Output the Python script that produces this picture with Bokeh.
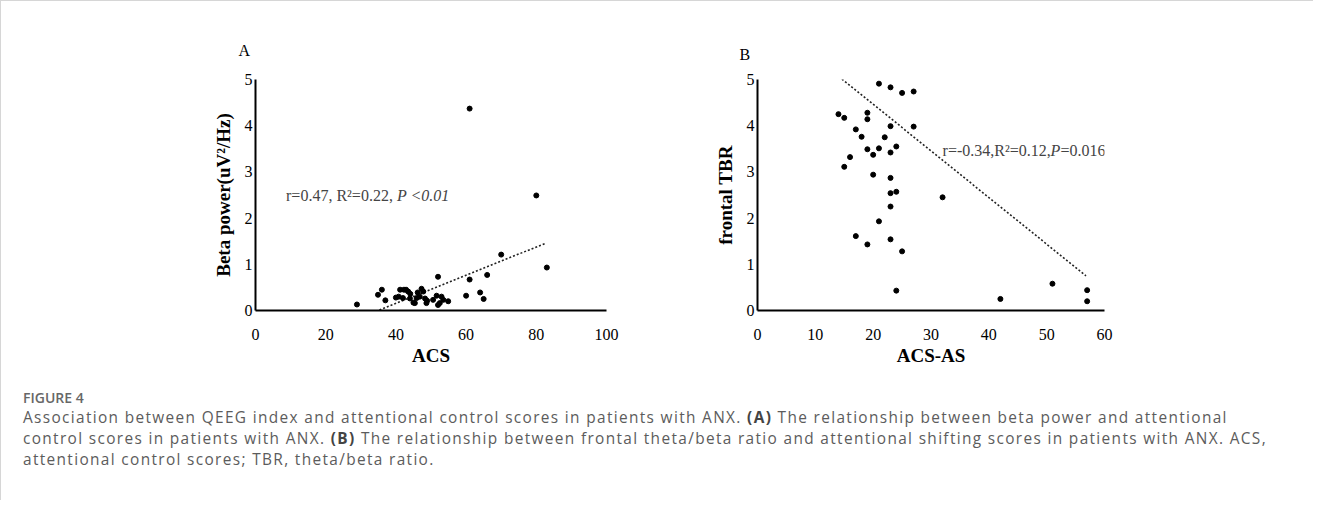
from bokeh.plotting import figure
from bokeh.models import Label, Div, Range1d, FixedTicker
from bokeh.layouts import column, row
from bokeh.embed import file_html
from bokeh.resources import INLINE

# ---------------- data: panel A ----------------
acs = [28.9, 34.9, 36.0, 37.0,
       40.0, 40.8, 41.2, 42.0, 42.3, 42.9, 43.5, 44.0, 44.1, 45.0, 45.4, 45.9,
       46.2, 46.8, 47.3, 47.8, 48.3, 48.7, 48.9, 50.6, 51.6, 52.0, 52.5, 53.0,
       53.5, 54.9,
       52.0, 60.0, 61.0, 61.0, 64.0, 65.0, 66.0, 70.0, 80.0, 83.0]
beta_power = [0.13, 0.34, 0.45, 0.22,
              0.28, 0.30, 0.45, 0.27, 0.45, 0.45, 0.41, 0.26, 0.36, 0.17, 0.16, 0.27,
              0.39, 0.30, 0.47, 0.41, 0.26, 0.16, 0.21, 0.23, 0.32, 0.12, 0.16, 0.30,
              0.23, 0.20,
              0.73, 0.32, 4.37, 0.67, 0.39, 0.25, 0.77, 1.21, 2.49, 0.93]
fit_a_x = [35.3, 82.8]
fit_a_y = [0.01, 1.46]
ticks_a_x = [0, 20, 40, 60, 80, 100]
ticks_a_y = [0, 1, 2, 3, 4, 5]

# ---------------- data: panel B ----------------
acs_as = [14.0, 15.0, 15.0, 16.0, 17.0, 17.0, 18.0, 19.0, 19.0, 19.0, 19.0,
          20.0, 20.0, 21.0, 21.0, 21.0, 22.0, 23.0, 23.0, 23.0, 23.0, 23.0,
          23.0, 23.0, 24.0, 24.0, 24.0, 25.0, 25.0, 27.0, 27.0, 32.0, 42.0,
          51.0, 57.0, 57.0]
frontal_tbr = [4.25, 4.17, 3.11, 3.32, 3.92, 1.61, 3.76, 4.28, 4.14, 3.49, 1.43,
               3.37, 2.94, 4.91, 3.51, 1.93, 3.75, 4.83, 3.99, 3.42, 2.87, 2.54,
               2.25, 1.54, 3.55, 2.57, 0.43, 4.71, 1.28, 4.74, 3.98, 2.45, 0.25,
               0.58, 0.44, 0.20]
fit_b_x = [14.6, 56.8]
fit_b_y = [5.01, 0.75]
ticks_b_x = [0, 10, 20, 30, 40, 50, 60]
ticks_b_y = [0, 1, 2, 3, 4, 5]

SERIF = "Liberation Serif"


def style_axes(p, xlabel, ylabel, xt, yt):
    p.xaxis.ticker = FixedTicker(ticks=xt)
    p.yaxis.ticker = FixedTicker(ticks=yt)
    for ax in (p.xaxis[0], p.yaxis[0]):
        ax.axis_line_width = 2
        ax.axis_line_color = "black"
        ax.major_tick_line_color = None
        ax.minor_tick_line_color = None
        ax.major_tick_out = 0
        ax.major_tick_in = 0
        ax.minor_tick_out = 0
        ax.major_label_text_font = SERIF
        ax.major_label_text_font_size = "16px"
        ax.major_label_text_color = "black"
        ax.axis_label_text_font = SERIF
        ax.axis_label_text_font_size = "19px"
        ax.axis_label_text_font_style = "bold"
        ax.axis_label_text_color = "black"
    p.xaxis.axis_label = xlabel
    p.yaxis.axis_label = ylabel
    p.xaxis.major_label_standoff = 18
    p.xaxis.axis_label_standoff = 2
    p.yaxis.major_label_standoff = 3
    p.yaxis.axis_label_standoff = 8
    p.xgrid.visible = False
    p.ygrid.visible = False
    p.outline_line_color = None


def panel_letter(p, letter, offset, standoff):
    p.title.text = letter
    p.title.text_font = SERIF
    p.title.text_font_size = "16px"
    p.title.text_font_style = "normal"
    p.title.text_color = "black"
    p.title.align = "left"
    p.title.offset = offset
    p.title.standoff = standoff


# ---------------- panel A ----------------
pa = figure(width=692, height=382, x_range=Range1d(0, 100), y_range=Range1d(0, 5),
            output_backend="svg", toolbar_location=None,
            min_border_left=254, min_border_right=87,
            min_border_top=78, min_border_bottom=72)
style_axes(pa, "ACS", "Beta power(uV²/Hz)", ticks_a_x, ticks_a_y)
panel_letter(pa, "A", -17, 41)
pa.line(fit_a_x, fit_a_y, line_color="#222222", line_width=1.6, line_dash="2 2")
pa.scatter(acs, beta_power, size=5, color="black")
pa.add_layout(Label(x=8.7, y=2.49, text="r=0.47, R²=0.22, ", text_font=SERIF,
                    text_font_size="16px", text_baseline="middle"))
pa.add_layout(Label(x=8.7, y=2.49, x_offset=111, text="P <0.01", text_font=SERIF,
                    text_font_size="16px", text_font_style="italic", text_baseline="middle"))

# ---------------- panel B ----------------
pb = figure(width=610, height=382, x_range=Range1d(0, 60), y_range=Range1d(0, 5),
            output_backend="svg", toolbar_location=None,
            min_border_left=64, min_border_right=199,
            min_border_top=78, min_border_bottom=73)
style_axes(pb, "ACS-AS", "frontal TBR", ticks_b_x, ticks_b_y)
panel_letter(pb, "B", -18, 34)
pb.line(fit_b_x, fit_b_y, line_color="#222222", line_width=1.6, line_dash="2 2")
pb.scatter(acs_as, frontal_tbr, size=5, color="black")
pb.add_layout(Label(x=32.0, y=3.46, text="r=-0.34,R²=0.12,", text_font=SERIF,
                    text_font_size="16px", text_baseline="middle"))
pb.add_layout(Label(x=32.0, y=3.46, x_offset=108, text="P", text_font=SERIF,
                    text_font_size="16px", text_font_style="italic", text_baseline="middle"))
pb.add_layout(Label(x=32.0, y=3.46, x_offset=118, text="=0.016", text_font=SERIF,
                    text_font_size="16px", text_baseline="middle"))

# ---------------- caption ----------------
caption_html = (
    "<div style=\"padding-left:17px; padding-top:0px; font-family:'Open Sans',sans-serif; color:#5c5c5c;\">"
    "<div style=\"font-size:14px; font-weight:600; line-height:19px; color:#676767;\">FIGURE 4</div>"
    "<div style=\"font-size:15.4px; line-height:21px; letter-spacing:1.35px; white-space:nowrap;\">"
    "Association between QEEG index and attentional control scores in patients with ANX. "
    "<b style=\"color:#444444;\">(A)</b> The relationship between beta power and attentional<br>"
    "control scores in patients with ANX. <b style=\"color:#444444;\">(B)</b> The relationship between frontal "
    "theta/beta ratio and attentional shifting scores in patients with ANX. ACS,<br>"
    "attentional control scores; TBR, theta/beta ratio."
    "</div></div>"
)
cap = Div(text=caption_html, width=1302, height=107)

layout = column(row(pa, pb), cap,
                styles={"border-top": "1px solid #d6d6d6", "border-left": "1px solid #d6d6d6"})

open("out.html", "w").write(file_html(layout, INLINE))
